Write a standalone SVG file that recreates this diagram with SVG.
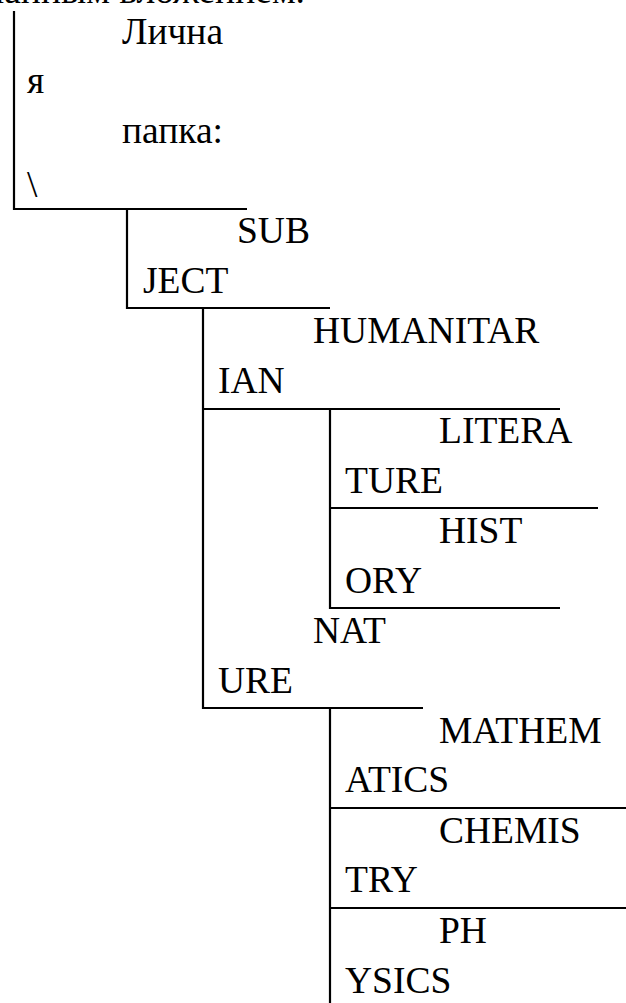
<svg xmlns="http://www.w3.org/2000/svg" width="626" height="1003" viewBox="0 0 626 1003">
<style>
text{font-family:'Liberation Serif','Times New Roman',serif;font-size:37.5px;fill:#000}
.ln{stroke:#000;stroke-width:2.2;fill:none}
</style>
<rect width="626" height="1003" fill="#fff"/>
<text x="305" y="3" text-anchor="end">смешанным вложением.</text>
<g id="connectors">
<path class="ln" d="M14,11V209H247"/>
<path class="ln" d="M127,209V308H330"/>
<path class="ln" d="M203,308V708H423"/>
<path class="ln" d="M203,409H560"/>
<path class="ln" d="M330,409V608H560"/>
<path class="ln" d="M330,508H598"/>
<path class="ln" d="M330,708V1003"/>
<path class="ln" d="M330,808H626"/>
<path class="ln" d="M330,908H626"/>
</g>
<g id="root"><text x="122" y="44">Лична</text><text x="27" y="93">я</text><text x="122" y="143">папка:</text><text x="27" y="197">\</text></g>
<g id="subject"><text x="237" y="243">SUB</text><text x="143" y="293">JECT</text></g>
<g id="humanitarian"><text x="313" y="343">HUMANITAR</text><text x="218" y="393">IAN</text></g>
<g id="literature"><text x="439" y="443">LITERA</text><text x="345" y="493">TURE</text></g>
<g id="history"><text x="439" y="543">HIST</text><text x="345" y="593">ORY</text></g>
<g id="nature"><text x="313" y="643">NAT</text><text x="218" y="693">URE</text></g>
<g id="mathematics"><text x="439" y="743">MATHEM</text><text x="345" y="792">ATICS</text></g>
<g id="chemistry"><text x="439" y="843">CHEMIS</text><text x="345" y="892">TRY</text></g>
<g id="physics"><text x="439" y="943">PH</text><text x="345" y="993">YSICS</text></g>
</svg>
